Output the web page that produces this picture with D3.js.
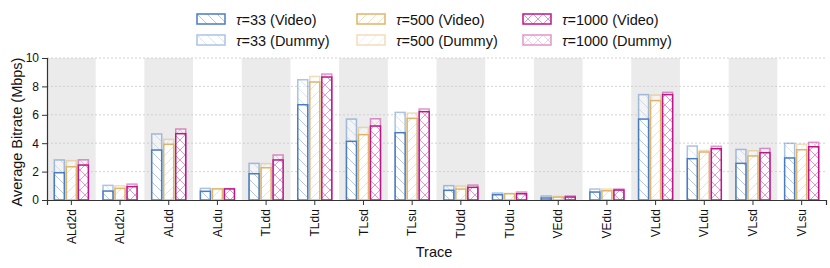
<!DOCTYPE html>
<html>
<head>
<meta charset="utf-8">
<script src="https://cdn.jsdelivr.net/npm/d3@7"></script>
<style>
  body { margin: 0; background: #fff; }
  svg text { font-family: "Liberation Sans", Arial, sans-serif; fill: #111; }
</style>
</head>
<body>
<main></main>
<script>
const traces = ['ALd2d', 'ALd2u', 'ALdd', 'ALdu', 'TLdd', 'TLdu', 'TLsd', 'TLsu',
    'TUdd', 'TUdu', 'VEdd', 'VEdu', 'VLdd', 'VLdu', 'VLsd', 'VLsu'];
const taus = ['33', '500', '1000'];
// video part and dummy (total) per tau
const video33 = [1.92, 0.63, 3.52, 0.61, 1.85, 6.71, 4.13, 4.74, 0.68, 0.37, 0.14, 0.56, 5.70, 2.91, 2.58, 2.96];
const dummy33 = [2.82, 1.03, 4.65, 0.82, 2.58, 8.47, 5.70, 6.17, 1.01, 0.49, 0.28, 0.77, 7.42, 3.80, 3.56, 3.99];
const video500 = [2.34, 0.82, 3.92, 0.78, 2.27, 8.31, 4.60, 5.75, 0.77, 0.44, 0.20, 0.65, 7.00, 3.38, 3.10, 3.54];
const dummy500 = [2.77, 1.00, 4.27, 0.80, 2.56, 8.70, 5.11, 6.12, 0.98, 0.46, 0.25, 0.77, 7.39, 3.49, 3.47, 3.92];
const video1000 = [2.46, 0.94, 4.67, 0.78, 2.82, 8.66, 5.21, 6.22, 0.89, 0.44, 0.21, 0.70, 7.42, 3.61, 3.33, 3.75];
const dummy1000 = [2.83, 1.12, 5.00, 0.80, 3.17, 8.87, 5.72, 6.41, 1.05, 0.56, 0.28, 0.77, 7.58, 3.78, 3.63, 4.06];
const yTicks = [0, 2, 4, 6, 8, 10];

const videoVals = [video33, video500, video1000];
const dummyVals = [dummy33, dummy500, dummy1000];
const colors = ['#4a7cc0', '#dfb56a', '#bd168b'];
const hatches = ['back', 'fwd', 'cross'];

const w = 830, h = 268;
const margin = {left: 47, right: 4, top: 58, bottom: 68};
const svg = d3.select('main').append('svg').attr('width', w).attr('height', h);
const defs = svg.append('defs');

// hatch patterns, one per tau
taus.forEach((t, i) => {
    const p = defs.append('pattern')
        .attr('id', 'hatch' + i)
        .attr('patternUnits', 'userSpaceOnUse')
        .attr('width', 10).attr('height', 10);
    p.append('rect').attr('width', 10).attr('height', 10).attr('fill', '#fff');
    const lines = [];
    if (hatches[i] === 'back' || hatches[i] === 'cross') lines.push([0, 0, 10, 10], [-5, 5, 5, 15], [5, -5, 15, 5]);
    if (hatches[i] === 'fwd' || hatches[i] === 'cross') lines.push([0, 10, 10, 0], [-5, 5, 5, -5], [5, 15, 15, 5]);
    lines.forEach(l => p.append('line')
        .attr('x1', l[0]).attr('y1', l[1]).attr('x2', l[2]).attr('y2', l[3])
        .attr('stroke', colors[i]).attr('stroke-opacity', 0.55).attr('stroke-width', 0.8));
});

const x = d3.scaleBand().domain(traces).range([margin.left, w - margin.right]);
const y = d3.scaleLinear().domain([0, 10]).range([h - margin.bottom, margin.top]);
const inner = d3.scaleBand().domain(taus).range([0, 34]).paddingInner(0.17);
const groupOffset = (x.bandwidth() - 34) / 2;

// alternating shaded bands
svg.append('g').selectAll('rect')
    .data(traces.filter((d, i) => i % 2 === 0)).enter().append('rect')
    .attr('x', d => x(d)).attr('width', x.bandwidth())
    .attr('y', y(10)).attr('height', y(0) - y(10))
    .attr('fill', '#ebebeb');

// grid
svg.append('g').selectAll('line')
    .data(yTicks.slice(1)).enter().append('line')
    .attr('x1', margin.left).attr('x2', w - margin.right)
    .attr('y1', d => y(d)).attr('y2', d => y(d))
    .attr('stroke', '#c8c8c8').attr('stroke-width', 0.8).attr('stroke-dasharray', '2,2');

// bars: dummy (faded, behind) then video (in front)
taus.forEach((t, i) => {
    const g = svg.append('g');
    g.selectAll('rect.dummy').data(traces).enter().append('rect')
        .attr('class', 'dummy')
        .attr('x', d => x(d) + groupOffset + inner(t))
        .attr('width', inner.bandwidth())
        .attr('y', (d, j) => y(dummyVals[i][j]))
        .attr('height', (d, j) => y(0) - y(dummyVals[i][j]))
        .attr('fill', 'url(#hatch' + i + ')')
        .attr('stroke', colors[i]).attr('stroke-width', 1.5)
        .attr('opacity', 0.45);
    g.selectAll('rect.video').data(traces).enter().append('rect')
        .attr('class', 'video')
        .attr('x', d => x(d) + groupOffset + inner(t))
        .attr('width', inner.bandwidth())
        .attr('y', (d, j) => y(videoVals[i][j]))
        .attr('height', (d, j) => y(0) - y(videoVals[i][j]))
        .attr('fill', 'url(#hatch' + i + ')')
        .attr('stroke', colors[i]).attr('stroke-width', 1.5);
});

// axes
const xAxis = svg.append('g')
    .attr('transform', `translate(0, ${y(0)})`)
    .call(d3.axisBottom(x).tickSizeOuter(0).tickSize(5).tickPadding(4));
xAxis.selectAll('text')
    .attr('transform', 'rotate(-90)')
    .attr('text-anchor', 'end')
    .attr('dx', '-0.1em').attr('dy', '0.35em')
    .attr('x', -8).attr('y', 0)
    .style('font-size', '12px');
const yAxis = svg.append('g')
    .attr('transform', `translate(${margin.left}, 0)`)
    .call(d3.axisLeft(y).tickValues(yTicks).tickSizeOuter(0).tickSize(5).tickPadding(3));
yAxis.selectAll('text').style('font-size', '12px');
[xAxis, yAxis].forEach(a => {
    a.select('.domain').attr('stroke', '#333').attr('stroke-width', 1.2);
    a.selectAll('.tick line').attr('stroke', '#333');
});

svg.append('text')
    .attr('transform', `translate(22, 132) rotate(-90)`)
    .attr('text-anchor', 'middle')
    .style('font-size', '14.5px')
    .text('Average Bitrate (Mbps)');
svg.append('text')
    .attr('x', 434).attr('y', 257)
    .attr('text-anchor', 'middle')
    .style('font-size', '14.5px')
    .text('Trace');

// legend
const legX = [197, 357, 523];
const legY = [14, 35];
taus.forEach((t, i) => {
    ['Video', 'Dummy'].forEach((kind, k) => {
        const g = svg.append('g').attr('transform', `translate(${legX[i]}, ${legY[k]})`);
        g.append('rect').attr('width', 28).attr('height', 10)
            .attr('fill', 'url(#hatch' + i + ')')
            .attr('stroke', colors[i]).attr('stroke-width', 1.5)
            .attr('opacity', k === 0 ? 1 : 0.45);
        const txt = g.append('text').attr('x', 39).attr('y', 10.5).style('font-size', '14.5px');
        txt.append('tspan').style('font-style', 'italic').text('τ');
        txt.append('tspan').text(`=${t} (${kind})`);
    });
});
</script>
</body>
</html>
